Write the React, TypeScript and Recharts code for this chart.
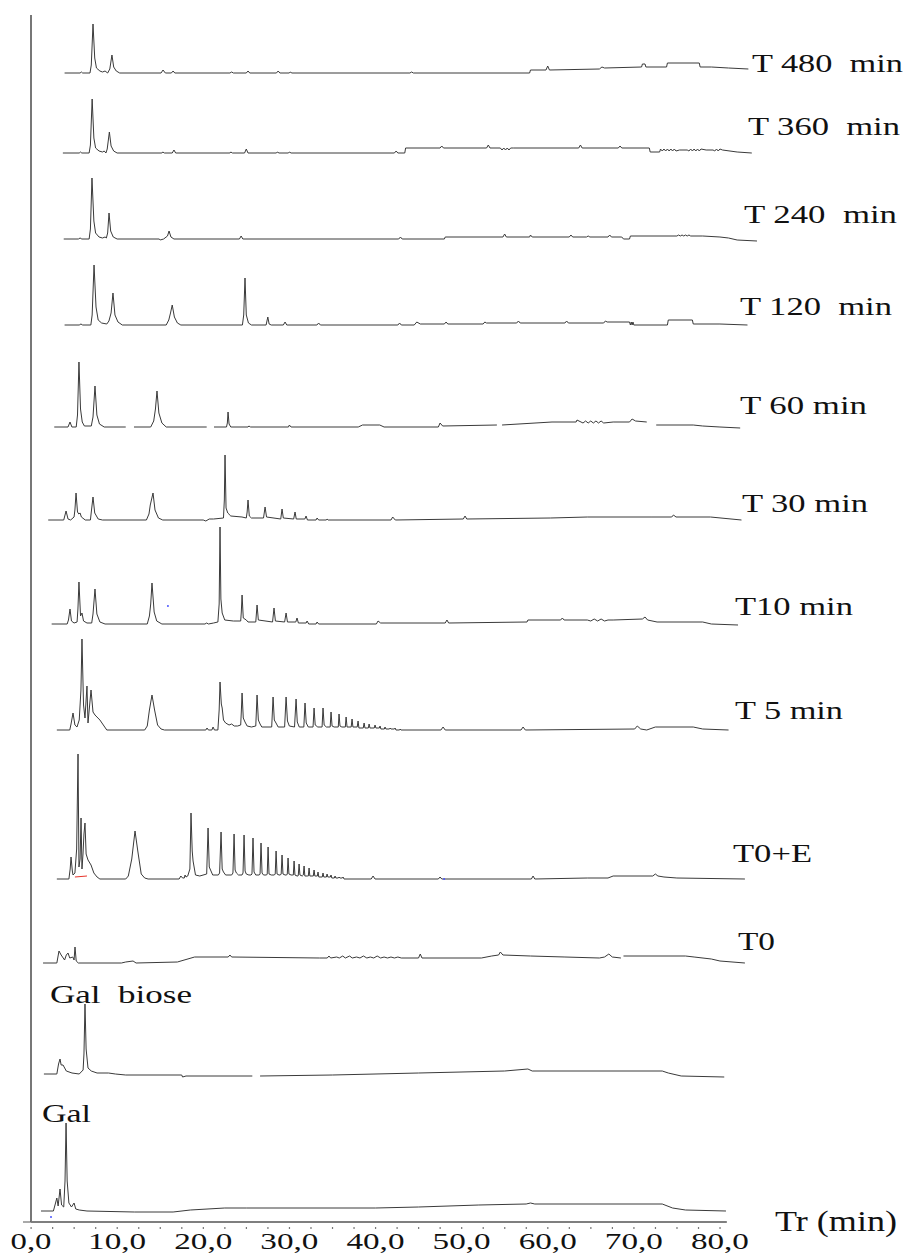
import React from "react";
import { ComposedChart, Line, XAxis, YAxis, ReferenceLine } from "recharts";

type Pt = [number, number | null];

// [retention time (min), signal above the trace's own baseline]
const gal: Pt[] = [
  [1.16, 0], [2.6, 0], [2.85, 8], [3.0, 13], [3.15, 5], [3.37, 22], [3.55, 6], [3.8, 4], [3.95, 30], [4.07, 88],
  [4.2, 30], [4.4, 8], [4.7, 4], [5.0, 8], [5.2, 2], [5.6, 1], [6.5, 0], [12.0, -1], [16.5, -1], [18.5, 1],
  [22.5, 3], [25.0, 3], [40.0, 3], [45.0, 4], [52.0, 6], [57.5, 7], [58.0, 8], [58.5, 7], [73.3, 7], [74.5, 3],
  [76.0, 1], [80.7, 0],
];

const galBiose: Pt[] = [
  [1.5, 0], [3.0, 0], [3.2, 10], [3.37, 15], [3.5, 9], [3.72, 9], [4.1, 3], [4.76, 1], [5.6, 0], [6.05, 4],
  [6.15, 20], [6.27, 70], [6.4, 25], [6.62, 6], [7.0, 3], [7.67, 1], [9.0, 1], [9.8, 0], [11.0, -1], [17.5, -1],
  [17.6, -3], [18.0, -2], [25.7, -2], [25.8, null], [26.6, -2], [35.0, -1], [45.0, 1], [55.0, 3], [57.7, 5],
  [58.2, 3], [73.3, 3], [74.0, 1], [75.5, -2], [80.5, -3],
];

const t0: Pt[] = [
  [1.4, 0], [3.0, 0], [3.25, 12], [3.5, 8], [3.9, 3], [4.1, 8], [4.3, 10], [4.5, 5], [4.85, 6], [5.0, 3],
  [5.11, 16], [5.25, 2], [5.5, 0], [10.5, 0], [11.0, 1], [11.85, 2], [12.2, 0], [17.0, 1], [19.0, 6], [22.9, 6],
  [23.1, 8], [23.3, 6], [33.5, 5], [34.4, 5], [34.6, 7], [34.8, 5], [35.5, 6], [35.8, 5], [36.2, 7], [36.5, 5],
  [37.0, 7], [37.3, 5], [37.8, 6], [38.2, 5], [38.6, 7], [39.0, 5], [39.4, 6], [39.8, 5], [40.2, 7], [40.6, 5],
  [41.0, 6], [41.4, 5], [41.8, 6], [42.2, 5], [42.6, 6], [43.0, 5], [45.0, 5], [45.2, 9], [45.4, 5], [52.3, 5],
  [53.5, 7], [54.3, 8], [54.5, 11], [54.8, 8], [58.0, 7], [62.0, 6], [66.0, 5], [66.6, 6], [67.1, 9], [67.5, 6],
  [68.5, 5], [68.6, null], [68.8, 7], [76.0, 7], [77.0, 6], [79.0, 4], [80.0, 2], [82.9, 0],
];

const t0E: Pt[] = [
  [3.0, 0], [4.4, 0], [4.55, 10], [4.65, 22], [4.8, 8], [4.88, 4], [5.1, 6], [5.3, 30], [5.46, 125], [5.57, 12],
  [5.7, 20], [5.81, 61], [5.92, 10], [6.04, 25], [6.15, 45], [6.27, 56], [6.4, 25], [6.62, 19], [6.97, 14],
  [7.3, 6], [7.67, 2], [8.0, 0], [11.0, 0], [11.3, 3], [11.7, 20], [12.08, 48], [12.4, 28], [12.8, 5], [13.2, 1],
  [13.6, 0], [17.2, 0], [17.4, 3], [17.6, 1], [17.8, 1], [17.89, 4], [18.0, 2], [18.2, 3], [18.45, 10],
  [18.58, 66], [18.72, 28], [18.82, 18], [19.1, 4], [19.6, 3], [20.4, 5], [20.56, 51], [20.7, 12], [20.85, 9],
  [21.1, 4], [21.75, 4], [21.9, 6], [22.07, 47], [22.2, 10], [22.35, 7], [22.6, 4], [23.3, 4], [23.45, 6],
  [23.58, 45], [23.7, 9], [23.85, 6], [24.1, 4], [24.5, 4], [24.62, 6], [24.74, 44], [24.86, 8], [25.0, 5],
  [25.3, 4], [25.55, 4], [25.66, 5], [25.78, 41], [25.9, 7], [26.1, 4], [26.5, 4], [26.6, 5], [26.71, 36],
  [26.83, 6], [27.0, 4], [27.35, 4], [27.43, 5], [27.53, 32], [27.64, 5], [27.9, 4], [28.25, 4], [28.36, 5],
  [28.46, 28], [28.57, 5], [28.8, 4], [28.95, 4], [29.05, 5], [29.15, 24], [29.26, 5], [29.5, 4], [29.68, 4],
  [29.76, 5], [29.85, 21], [29.95, 5], [30.2, 4], [30.4, 4], [30.46, 4], [30.55, 18], [30.65, 4], [30.9, 3],
  [31.0, 3], [31.04, 4], [31.13, 15], [31.23, 4], [31.5, 3], [31.62, 4], [31.71, 13], [31.8, 3], [32.1, 3],
  [32.2, 3], [32.29, 11], [32.38, 3], [32.78, 3], [32.87, 9], [32.96, 3], [33.25, 3], [33.33, 7], [33.42, 2],
  [33.82, 2], [33.91, 6], [34.0, 2], [34.3, 2], [34.38, 5], [34.47, 2], [34.76, 2], [34.84, 4], [34.93, 1],
  [35.22, 1], [35.31, 3], [35.4, 1], [35.68, 1], [35.77, 2], [35.87, 1], [36.15, 1], [36.24, 2], [36.35, 0],
  [39.5, 0], [39.72, 3], [39.95, 0], [47.3, 0], [47.5, 2], [47.7, 0], [58.1, 0], [58.3, 3], [58.5, 0],
  [64.6, 1], [67.0, 1], [67.6, 3], [72.2, 3], [72.5, 5], [72.8, 3], [73.5, 2], [75.0, 1], [82.9, 0],
];

const t5: Pt[] = [
  [3.0, 0], [4.5, 0], [4.65, 6], [4.88, 17], [5.1, 5], [5.34, 3], [5.6, 10], [5.8, 40], [5.92, 91], [6.1, 25],
  [6.27, 12], [6.5, 44], [6.62, 7], [6.97, 40], [7.2, 18], [7.43, 15], [8.0, 10], [8.4, 5], [8.8, 0], [13.2, 0],
  [13.5, 4], [13.75, 20], [14.05, 35], [14.35, 20], [14.7, 5], [15.1, 1], [15.5, 0], [20.3, 0], [20.44, 2],
  [20.6, 0], [21.0, 0], [21.14, 3], [21.3, 0], [21.7, 0], [21.85, 20], [21.95, 48], [22.1, 26], [22.2, 22],
  [22.35, 10], [22.6, 7], [23.0, 5], [23.3, 6], [23.6, 4], [24.0, 4], [24.35, 5], [24.42, 18], [24.51, 37],
  [24.65, 12], [24.85, 8], [25.1, 4], [25.6, 3], [26.1, 4], [26.25, 35], [26.4, 10], [26.6, 6], [26.8, 3],
  [27.95, 3], [28.11, 33], [28.25, 10], [28.45, 7], [28.7, 3], [29.45, 3], [29.62, 33], [29.78, 9], [30.0, 4],
  [30.6, 3], [30.78, 31], [30.92, 8], [31.15, 3], [31.68, 3], [31.82, 27], [31.96, 7], [32.2, 3], [32.75, 3],
  [32.87, 22], [33.0, 5], [33.3, 3], [33.8, 3], [33.91, 22], [34.04, 5], [34.3, 3], [34.74, 3], [34.84, 18],
  [34.96, 4], [35.2, 3], [35.68, 3], [35.77, 16], [35.88, 4], [36.1, 3], [36.5, 3], [36.59, 13], [36.7, 3],
  [37.18, 3], [37.28, 11], [37.38, 3], [37.88, 3], [37.98, 9], [38.08, 2], [38.58, 2], [38.68, 7], [38.78, 2],
  [39.17, 2], [39.26, 6], [39.36, 2], [39.86, 2], [39.95, 5], [40.05, 2], [40.45, 2], [40.53, 4], [40.63, 1],
  [41.03, 1], [41.11, 3], [41.21, 1], [41.62, 1], [41.7, 2], [41.8, 1], [42.2, 1], [42.28, 2], [42.38, 0],
  [42.8, 0], [42.86, 1], [42.96, 0], [47.6, 0], [47.85, 3], [48.1, 0], [56.9, 0], [57.14, 3], [57.4, 0],
  [70.1, 1], [70.4, 4], [70.8, 1], [71.5, 0], [72.5, 3], [76.9, 3], [78.0, 1], [81.0, 0],
];

const t10: Pt[] = [
  [2.4, 0], [4.2, 0], [4.35, 4], [4.53, 15], [4.7, 3], [5.0, 1], [5.35, 2], [5.45, 15], [5.57, 42], [5.75, 8],
  [5.92, 11], [6.1, 3], [6.5, 1], [7.05, 1], [7.2, 10], [7.43, 35], [7.65, 10], [8.0, 2], [8.6, 0], [13.5, 0],
  [13.75, 8], [13.9, 20], [14.05, 41], [14.3, 12], [14.6, 3], [15.2, 0], [20.2, 0], [20.4, 1], [20.6, 0],
  [21.2, 1], [21.7, 2], [21.85, 20], [21.95, 97], [22.05, 25], [22.2, 11], [22.5, 4], [23.5, 3], [24.35, 3],
  [24.42, 12], [24.51, 29], [24.65, 6], [25.0, 4], [25.2, 2], [26.1, 2], [26.25, 19], [26.4, 4], [28.05, 2],
  [28.22, 16], [28.38, 3], [29.45, 2], [29.62, 11], [29.78, 2], [30.75, 2], [30.89, 6], [31.05, 1], [31.95, 1],
  [32.06, 3], [32.25, 0], [33.1, 0], [33.22, 2], [33.4, 0], [40.1, 0], [40.3, 3], [40.6, 1], [48.1, 1],
  [48.3, 4], [48.5, 1], [57.6, 2], [57.7, 4], [61.5, 4], [61.7, 6], [61.9, 4], [64.6, 4], [65.0, 3], [65.4, 5],
  [65.8, 3], [66.2, 5], [66.6, 3], [67.0, 4], [67.6, 4], [71.0, 5], [71.3, 7], [71.6, 4], [72.7, 2], [78.0, 2],
  [79.0, 0], [82.1, -1],
];

const t30: Pt[] = [
  [2.0, 0], [3.8, 0], [4.07, 9], [4.3, 1], [4.6, 0], [5.0, 3], [5.1, 10], [5.23, 27], [5.4, 8], [5.55, 6],
  [5.7, 7], [5.85, 3], [6.3, 0], [6.9, 0], [7.0, 8], [7.2, 23], [7.4, 7], [7.8, 1], [8.3, 0], [13.4, 0],
  [13.7, 6], [13.85, 15], [14.17, 27], [14.4, 10], [14.8, 2], [15.3, 0], [20.0, 0], [20.3, -1], [20.7, 1],
  [21.2, 1], [22.35, 2], [22.45, 20], [22.53, 65], [22.65, 12], [22.85, 7], [23.2, 4], [24.5, 3], [25.0, 2],
  [25.1, 8], [25.2, 20], [25.35, 4], [25.6, 2], [27.0, 2], [27.18, 13], [27.35, 3], [29.0, 1], [29.15, 11],
  [29.3, 2], [30.5, 1], [30.66, 8], [30.8, 1], [31.8, 1], [31.94, 4], [32.1, 0], [33.1, 0], [33.22, 2],
  [33.4, 0], [34.3, 0], [34.38, 1], [34.5, 0], [41.8, 0], [42.0, 3], [42.3, 0], [50.2, 1], [50.4, 4],
  [50.6, 1], [60.3, 2], [64.6, 3], [72.0, 3], [74.4, 3], [74.6, 5], [74.9, 3], [78.9, 3], [82.5, 0],
];

const t60: Pt[] = [
  [2.7, 0], [4.3, 0], [4.53, 5], [4.75, 0], [5.25, 0], [5.4, 12], [5.57, 65], [5.75, 18], [5.95, 5], [6.2, 1],
  [7.0, 1], [7.2, 10], [7.43, 41], [7.65, 12], [7.95, 3], [8.5, 0], [11.0, 0], [11.1, null], [11.96, 0],
  [13.9, 0], [14.25, 6], [14.45, 18], [14.63, 36], [14.85, 14], [15.2, 4], [15.7, 0], [20.4, 0], [20.5, null],
  [21.25, 0], [22.7, 0], [22.8, 4], [22.88, 15], [23.0, 3], [23.2, 0], [25.2, 0], [25.3, 1], [25.5, 0],
  [29.9, 0], [30.0, 2], [30.2, 0], [38.0, 0], [38.5, 2], [40.5, 2], [41.0, 0], [47.3, 0], [47.5, 4], [47.8, 1],
  [54.1, 2], [54.2, null], [54.7, 2], [60.5, 5], [63.3, 5], [63.4, 7], [64.1, 4], [64.4, 6], [64.7, 4],
  [65.0, 6], [65.3, 4], [65.6, 6], [65.9, 4], [66.2, 6], [66.5, 4], [67.6, 5], [69.5, 5], [69.8, 8], [70.2, 6],
  [71.5, 5], [71.6, null], [72.6, 2], [76.9, 2], [78.0, 1], [80.0, 0], [82.35, -1],
];

const t120: Pt[] = [
  [3.9, 0], [5.6, 0], [5.8, 1], [6.0, 0], [6.95, 0], [7.1, 10], [7.32, 60], [7.55, 18], [7.8, 5], [8.2, 2],
  [8.8, 1], [9.05, 4], [9.3, 12], [9.52, 32], [9.75, 10], [10.1, 3], [10.6, 0], [15.7, 0], [16.0, 5],
  [16.2, 12], [16.4, 20], [16.65, 8], [17.0, 2], [17.4, 0], [24.55, 0], [24.7, 10], [24.85, 47], [25.0, 10],
  [25.25, 2], [25.6, 0], [27.3, 0], [27.5, 8], [27.65, 1], [27.9, 0], [29.3, 0], [29.5, 3], [29.7, 0],
  [33.2, 0], [33.4, 2], [33.6, 0], [42.6, 0], [42.8, 2], [43.0, 0], [44.5, 0], [44.8, 3], [45.2, 1], [48.0, 1],
  [48.2, 3], [48.4, 1], [52.5, 1], [52.7, 3], [52.9, 2], [56.4, 2], [56.6, 4], [56.8, 2], [62.0, 2], [62.2, 4],
  [62.4, 2], [66.5, 2], [66.7, 4], [66.9, 3], [69.5, 3], [69.6, 0], [69.7, 3], [69.8, 0], [69.9, 3], [70.0, 0],
  [73.9, 0], [74.0, 5], [76.8, 5], [76.9, 1], [80.0, 1], [83.2, 0],
];

const t240: Pt[] = [
  [3.8, 0], [5.5, 0], [5.7, 1], [5.9, 0], [6.75, 0], [6.9, 10], [7.08, 61], [7.3, 18], [7.5, 6], [7.9, 2],
  [8.3, 1], [8.6, 2], [8.75, 1], [8.9, 6], [9.06, 26], [9.25, 8], [9.55, 2], [10.0, 0], [14.9, 0], [15.0, -1],
  [15.4, 0], [15.85, 3], [16.03, 8], [16.25, 2], [16.6, 0], [24.2, 0], [24.4, 3], [24.6, 0], [42.7, 0],
  [42.9, 2], [43.1, 0], [48.0, 0], [48.1, 2], [54.8, 2], [55.0, 5], [55.2, 2], [57.9, 2], [58.0, 4], [58.2, 2],
  [62.5, 2], [62.7, 4], [62.9, 2], [64.5, 2], [64.7, 3], [64.9, 2], [67.0, 2], [67.2, 4], [67.4, 2], [68.6, 2],
  [68.8, 0], [69.5, 0], [69.6, 3], [75.0, 3], [75.2, 4], [75.4, 3], [75.6, 4], [75.8, 3], [76.0, 4], [76.2, 3],
  [76.4, 4], [76.6, 3], [78.0, 3], [80.0, 2], [81.0, 1], [82.0, -1], [84.3, -2],
];

const t360: Pt[] = [
  [3.7, 0], [5.6, 0], [5.75, 1], [5.9, 0], [6.75, 0], [6.9, 8], [7.1, 54], [7.3, 15], [7.5, 5], [7.9, 2],
  [8.3, 1], [8.5, 2], [8.7, 0], [8.85, 4], [9.1, 21], [9.3, 7], [9.6, 2], [10.0, 0], [15.2, 0], [15.3, 1],
  [15.5, 0], [16.4, 0], [16.6, 3], [16.8, 0], [23.1, 0], [23.2, 1], [23.4, 0], [24.8, 0], [25.0, 4], [25.2, 0],
  [28.5, 0], [28.6, 1], [28.8, 0], [29.9, 0], [30.0, 1], [30.2, 0], [42.2, 0], [42.4, 2], [42.6, 0], [43.4, 0],
  [43.5, 5], [47.5, 5], [47.7, 7], [47.9, 5], [52.9, 5], [53.1, 8], [53.3, 5], [54.5, 5], [54.7, 3], [54.9, 5],
  [55.1, 3], [55.3, 5], [55.5, 3], [55.7, 5], [56.0, 5], [63.6, 5], [63.8, 8], [64.0, 5], [68.2, 5], [68.4, 7],
  [68.6, 5], [71.8, 5], [71.9, 1], [73.0, 1], [73.1, 4], [73.3, 2], [73.5, 4], [73.7, 2], [73.9, 4], [74.1, 2],
  [74.3, 4], [74.5, 2], [74.7, 4], [74.9, 2], [75.3, 3], [76.2, 3], [76.4, 2], [76.6, 4], [76.8, 2], [77.0, 4],
  [77.2, 2], [77.4, 4], [77.6, 2], [77.8, 4], [78.4, 3], [79.2, 3], [79.4, 2], [79.6, 4], [79.8, 2], [80.0, 4],
  [80.3, 3], [82.0, 1], [83.7, 0],
];

const t480: Pt[] = [
  [3.9, 0], [5.7, 0], [5.85, 1], [6.0, 0], [6.85, 0], [7.0, 8], [7.2, 49], [7.4, 15], [7.6, 5], [8.0, 2],
  [8.3, 1], [8.6, 2], [8.9, 0], [9.15, 4], [9.4, 18], [9.6, 6], [9.9, 2], [10.3, 0], [15.1, 0], [15.33, 3],
  [15.6, 0], [16.3, 0], [16.5, 2], [16.7, 0], [23.1, 0], [23.3, 1], [23.5, 0], [25.0, 0], [25.2, 2], [25.4, 0],
  [28.5, 0], [28.7, 2], [28.9, 0], [30.0, 0], [30.1, 1], [30.3, 0], [44.0, 0], [44.2, 1], [44.4, 0], [57.9, 0],
  [58.0, 3], [59.8, 3], [60.0, 7], [60.2, 3], [66.0, 4], [66.3, 6], [66.6, 5], [70.9, 6], [71.0, 9], [71.3, 9],
  [71.4, 6], [73.8, 6], [73.9, 10], [77.6, 10], [77.7, 6], [79.0, 6], [81.0, 5], [83.3, 4],
];

// integration marker under the first T0+E peaks (red) and stray blue points
const t0EMarker: Pt[] = [[5.1, 2], [6.5, 3]];
const bluePoints: [number, number, number][] = [
  [2.32, -6, 0],
  [47.97, 0, 3],
  [15.9, 18, 5],
];

const traceNames = [
  "Gal", "Gal  biose", "T0", "T0+E", "T 5 min", "T10 min",
  "T 30 min", "T 60 min", "T 120  min", "T 240  min", "T 360  min", "T 480  min",
];
const traceSeries = [gal, galBiose, t0, t0E, t5, t10, t30, t60, t120, t240, t360, t480];

const majorTicks = [0, 10, 20, 30, 40, 50, 60, 70, 80];
const majorTickLabels = ["0,0", "10,0", "20,0", "30,0", "40,0", "50,0", "60,0", "70,0", "80,0"];
const minorTicks = [
  0, 2.5, 5, 7.5, 10, 12.5, 15, 17.5, 20, 22.5, 25, 27.5, 30, 32.5, 35, 37.5, 40,
  42.5, 45, 47.5, 50, 52.5, 55, 57.5, 60, 62.5, 65, 67.5, 70, 72.5, 75, 77.5, 80,
];

// layout: vertical stacking of the traces (y units are pixels)
const traceOffsets = [11, 148, 259, 343, 492, 598, 702, 795, 897, 983, 1069, 1149];
// label boxes: left x, baseline y, rendered width
const labelBoxes = [
  { x: 42, y: 1122, w: 49 },
  { x: 50, y: 1003, w: 142 },
  { x: 738, y: 950, w: 37 },
  { x: 733, y: 862, w: 79 },
  { x: 735, y: 719, w: 108 },
  { x: 735, y: 615, w: 118 },
  { x: 742, y: 512, w: 126 },
  { x: 740, y: 414, w: 127 },
  { x: 740, y: 315, w: 152 },
  { x: 744, y: 223, w: 153 },
  { x: 748, y: 135, w: 152 },
  { x: 752, y: 72, w: 151 },
];

const FONT = "'Liberation Serif', 'Times New Roman', serif";

const toRows = (pts: Pt[], offset: number) =>
  pts.map(([t, h]) => ({ t, y: h === null ? null : h + offset }));

const TimeTick = (props: any) => {
  const { x, y, payload } = props;
  const idx = majorTicks.indexOf(payload.value);
  const w = idx === 0 ? 41 : 58;
  return (
    <g>
      <rect x={x - 0.5} y={y + 5} width={1.2} height={2} fill="#777" />
      {idx >= 0 && (
        <text
          x={x - w / 2}
          y={y + 27}
          fontSize={23}
          fontFamily={FONT}
          fill="#111"
          textLength={w}
          lengthAdjust="spacingAndGlyphs"
        >
          {majorTickLabels[idx]}
        </text>
      )}
    </g>
  );
};

const App = () => {
  const blueRows = bluePoints.map(([t, h, i]) => ({ t, y: h + traceOffsets[i] }));

  return (
    <div style={{ position: "absolute", left: 0, top: 0, width: 907, height: 1256, background: "#fff" }}>
      <ComposedChart width={907} height={1256} margin={{ top: 15, right: 144, bottom: 0, left: 21 }}>
        <XAxis
          type="number"
          dataKey="t"
          domain={[0, 85]}
          allowDataOverflow
          ticks={minorTicks}
          interval={0}
          axisLine={false}
          tickLine={false}
          tickSize={0}
          tickMargin={0}
          height={34}
          tick={<TimeTick />}
        />
        <YAxis
          type="number"
          domain={[0, 1207]}
          allowDataOverflow
          width={10}
          ticks={[0]}
          tickFormatter={() => ""}
          tickSize={8}
          axisLine={{ stroke: "#777", strokeWidth: 2 }}
          tickLine={{ stroke: "#555" }}
        />
        <ReferenceLine
          segment={[{ x: 0, y: 0 }, { x: 0, y: 1207 }]}
          stroke="#777"
          strokeWidth={2}
        />
        <ReferenceLine
          segment={[{ x: 0, y: 0 }, { x: 80.8, y: 0 }]}
          stroke="#555"
          strokeWidth={1.5}
        />
        {traceSeries.map((pts, i) => (
          <Line
            key={traceNames[i]}
            data={toRows(pts, traceOffsets[i])}
            dataKey="y"
            type="linear"
            stroke="#3a3a3a"
            strokeWidth={1}
            dot={false}
            connectNulls={false}
            isAnimationActive={false}
          />
        ))}
        <Line
          data={toRows(t0EMarker, traceOffsets[3])}
          dataKey="y"
          stroke="#e8332a"
          strokeWidth={1}
          dot={false}
          isAnimationActive={false}
        />
        <Line
          data={blueRows}
          dataKey="y"
          stroke="none"
          dot={{ r: 1, fill: "#4a55ff", stroke: "none" }}
          isAnimationActive={false}
        />
      </ComposedChart>
      <svg width={907} height={1256} style={{ position: "absolute", left: 0, top: 0, pointerEvents: "none" }}>
        {labelBoxes.map((b, i) => (
          <text
            key={traceNames[i]}
            x={b.x}
            y={b.y}
            fontSize={26}
            fontFamily={FONT}
            fill="#111"
            textLength={b.w}
            lengthAdjust="spacingAndGlyphs"
            style={{ whiteSpace: "pre" }}
          >
            {traceNames[i]}
          </text>
        ))}
        <text
          x={775}
          y={1231}
          fontSize={29}
          fontFamily={FONT}
          fill="#111"
          textLength={122}
          lengthAdjust="spacingAndGlyphs"
        >
          Tr (min)
        </text>
      </svg>
    </div>
  );
};

export default App;
